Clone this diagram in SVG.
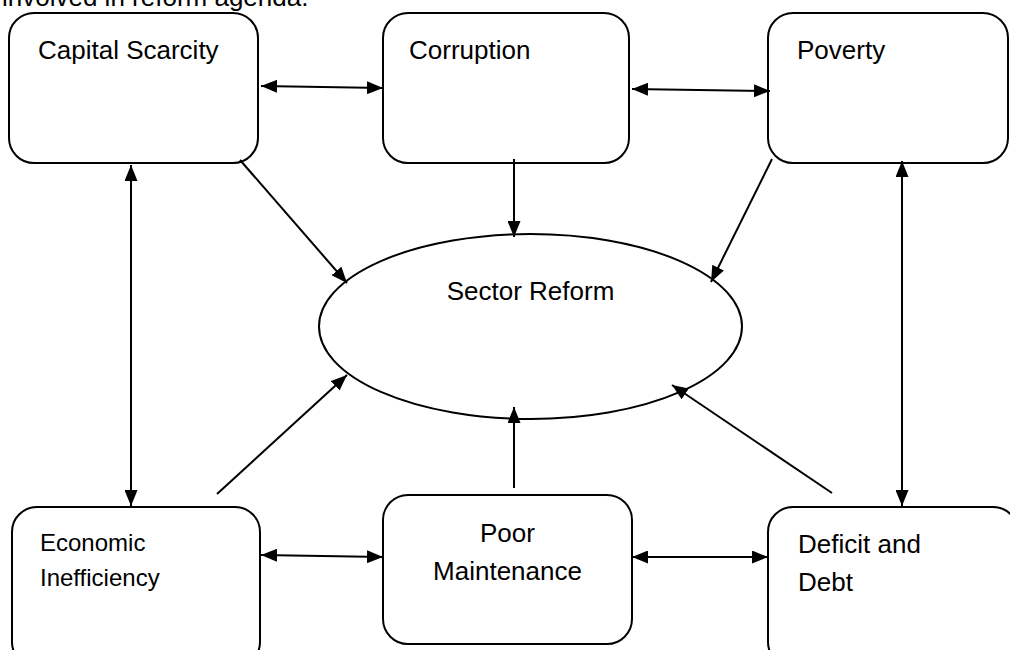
<svg xmlns="http://www.w3.org/2000/svg" width="1010" height="650" viewBox="0 0 1010 650">
<style>
.box{fill:#fff;stroke:#000;stroke-width:2}
.lbl{font-family:"Liberation Sans",Arial,sans-serif;font-size:26px;fill:#000}
.sm{font-size:24px}
.c{stroke:#000;stroke-width:2;fill:none}
.one{marker-end:url(#ah)}
.two{marker-start:url(#ah);marker-end:url(#ah)}
</style>
<defs>
<marker id="ah" markerUnits="userSpaceOnUse" markerWidth="16" markerHeight="13" refX="16" refY="6.5" orient="auto-start-reverse">
<path d="M0,0 L16,6.5 L0,13 z" fill="#000"/>
</marker>
</defs>
<rect width="1010" height="650" fill="#fff"/>
<text class="lbl" x="2" y="6">involved in reform agenda.</text>

<g id="node-sector-reform">
<ellipse class="box" cx="530.5" cy="326.5" rx="211.5" ry="92.5"/>
<text class="lbl" x="530.5" y="300" text-anchor="middle">Sector Reform</text>
</g>

<g id="node-capital-scarcity">
<rect class="box" x="9" y="13" width="249" height="150" rx="25" ry="25"/>
<text class="lbl" x="38" y="59">Capital Scarcity</text>
</g>
<g id="node-corruption">
<rect class="box" x="383" y="13" width="246" height="150" rx="25" ry="25"/>
<text class="lbl" x="409" y="59">Corruption</text>
</g>
<g id="node-poverty">
<rect class="box" x="768" y="13" width="240" height="150" rx="25" ry="25"/>
<text class="lbl" x="797" y="59">Poverty</text>
</g>
<g id="node-economic-inefficiency">
<rect class="box" x="12" y="507" width="248" height="160" rx="25" ry="25"/>
<text class="lbl sm" x="40" y="551">Economic</text>
<text class="lbl sm" x="40" y="586">Inefficiency</text>
</g>
<g id="node-poor-maintenance">
<rect class="box" x="383" y="495" width="249" height="149" rx="25" ry="25"/>
<text class="lbl" x="507.5" y="542" text-anchor="middle">Poor</text>
<text class="lbl" x="507.5" y="580" text-anchor="middle">Maintenance</text>
</g>
<g id="node-deficit-debt">
<rect class="box" x="768" y="507" width="250" height="160" rx="25" ry="25"/>
<text class="lbl" x="798" y="553">Deficit and</text>
<text class="lbl" x="798" y="591">Debt</text>
</g>

<g id="connectors">
<line class="c two" x1="261" y1="86" x2="383" y2="88"/>
<line class="c two" x1="632" y1="89" x2="770" y2="91"/>
<line class="c two" x1="261" y1="555" x2="383" y2="557"/>
<line class="c two" x1="632" y1="557" x2="768" y2="557"/>
<line class="c two" x1="131" y1="165" x2="131" y2="506"/>
<line class="c two" x1="902" y1="161" x2="902" y2="506"/>
<line class="c one" x1="240" y1="160" x2="347" y2="283"/>
<line class="c one" x1="514" y1="159" x2="514" y2="237"/>
<line class="c one" x1="772" y1="159" x2="711" y2="282"/>
<line class="c one" x1="217" y1="494" x2="347" y2="375"/>
<line class="c one" x1="514" y1="488" x2="514" y2="407"/>
<line class="c one" x1="832" y1="493" x2="672" y2="385"/>
</g>
</svg>
